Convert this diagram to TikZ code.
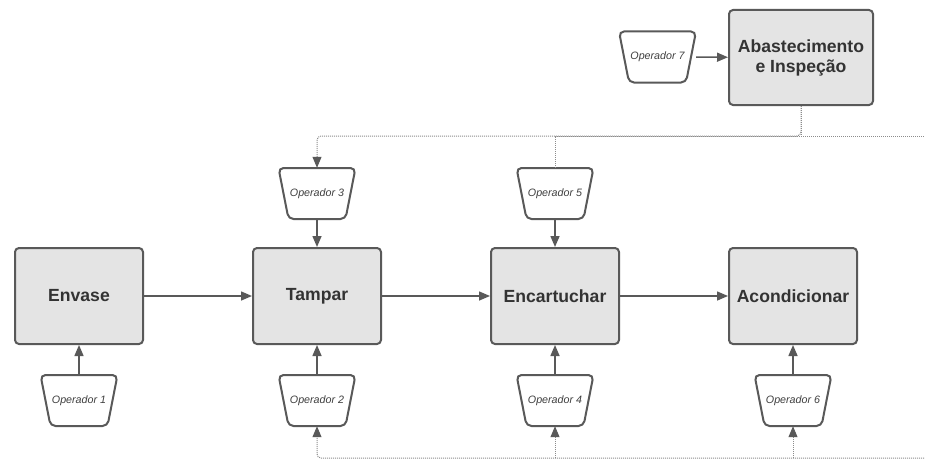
\documentclass[tikz,border=0pt]{standalone}
\usepackage{fontspec}
\setmainfont{Liberation Sans}
\usetikzlibrary{arrows.meta}
\definecolor{ln}{HTML}{595959}
\definecolor{bx}{HTML}{E4E4E4}
\definecolor{dt}{HTML}{8C8C8C}
\tikzset{
  procbox/.style={draw=ln, line width=2pt, fill=bx, rounded corners=4pt,
    minimum width=128pt, minimum height=96pt, inner sep=0pt,
    font=\fontsize{17.6}{20}\selectfont\bfseries, text=black!80, align=center},
  opline/.style={draw=ln, line width=2pt, fill=white, rounded corners=5pt},
  opnode/.style={minimum width=77pt, minimum height=51pt, inner sep=0pt,
    font=\fontsize{10.7}{12}\selectfont\itshape, text=black!75},
  flow/.style={draw=ln, line width=1.5pt, -{Triangle[length=11pt,width=9pt]}},
  dotflow/.style={draw=dt, line width=1pt, dash pattern=on 1pt off 1pt},
  dotarrow/.style={dotflow, -{Triangle[length=11pt,width=9pt,color=ln]}},
}
% operator: name, x, y, text
\newcommand\opshape[4]{%
  \draw[opline] (#2,#3) ++(-38.5,-25.5) -- ++(77,0) -- ++(-10,51) -- ++(-57,0) -- cycle;
  \node[opnode] (#1) at (#2,#3) {#4};}
\begin{document}
\begin{tikzpicture}[x=1pt,y=-1pt]
\useasboundingbox (0,0) rectangle (925,460);
% process boxes
\node[procbox] (env) at (79,296) {Envase};
\node[procbox] (tam) at (317,296) {Tampar};
\node[procbox] (enc) at (555,296) {Encartuchar};
\node[procbox] (aco) at (793,296) {Acondicionar};
\node[procbox, minimum width=144pt, minimum height=95pt] (aba) at (801,57.5) {Abastecimento\\e Inspeção};
% operators
\opshape{op1}{79}{400.5}{Operador 1}
\opshape{op2}{317}{400.5}{Operador 2}
\opshape{op3}{317}{193.5}{Operador 3}
\opshape{op4}{555}{400.5}{Operador 4}
\opshape{op5}{555}{193.5}{Operador 5}
\opshape{op6}{793}{400.5}{Operador 6}
\opshape{op7}{657.5}{57}{Operador 7}
% free ends
\coordinate (topR) at (926,136);
\coordinate (topL) at (317,136);
\coordinate (botR) at (926,458);
\coordinate (botL) at (317,458);
% main flow
\draw[flow] (env) -- (tam);
\draw[flow] (tam) -- (enc);
\draw[flow] (enc) -- (aco);
\draw[flow] (op7) -- (aba);
\draw[flow] (op1) -- (env);
\draw[flow] (op2) -- (tam);
\draw[flow] (op3) -- (tam);
\draw[flow] (op4) -- (enc);
\draw[flow] (op5) -- (enc);
\draw[flow] (op6) -- (aco);
% dotted distribution lines (top)
\draw[dotarrow, rounded corners=4pt] (aba.south) |- (topL) -- (op3.north);
\draw[dotflow] (aba.south) |- (topR);
\draw[dotflow] (op5.north) |- (topR);
% dotted distribution lines (bottom)
\draw[dotarrow, rounded corners=4pt] (botR) -- (botL) -- (op2.south);
\draw[dotarrow] (op4.south |- botR) -- (op4.south);
\draw[dotarrow] (op6.south |- botR) -- (op6.south);
\end{tikzpicture}
\end{document}
